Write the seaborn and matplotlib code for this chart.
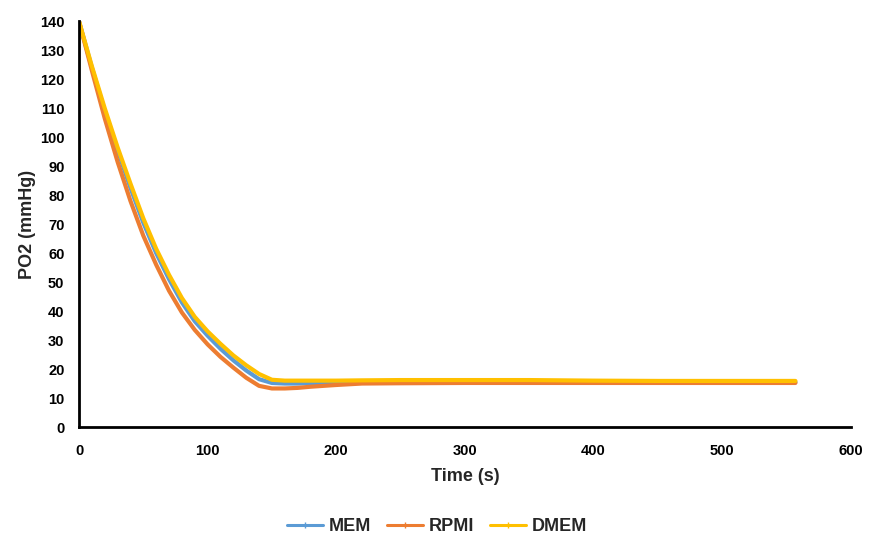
import numpy as np
import pandas as pd
import matplotlib
matplotlib.use("Agg")
import matplotlib.pyplot as plt
import seaborn as sns

# Oxygen partial pressure over time for three culture media
time_s = [0, 10, 20, 30, 40, 50, 60, 70, 80, 90, 100, 110, 120, 130, 140, 150,
          160, 170, 180, 200, 220, 250, 300, 350, 400, 450, 500, 557]
mem = [140, 124, 109, 95.5, 82.5, 70.5, 60, 51, 43, 36.5, 31.5, 27, 23, 19.5, 16.5, 15.2,
       15.0, 15.0, 15.1, 15.2, 15.4, 15.5, 15.5, 15.5, 15.5, 15.5, 15.5, 15.5]
rpmi = [140, 123, 106.5, 91.5, 78, 66, 56, 47, 39.5, 33.5, 28.5, 24.2, 20.5, 17, 14.2, 13.3,
        13.3, 13.5, 13.9, 14.5, 15.0, 15.1, 15.2, 15.2, 15.2, 15.2, 15.2, 15.2]
dmem = [140, 124.5, 110, 96.5, 84, 72, 61.5, 52.5, 44.5, 38, 33, 28.7, 24.7, 21.3, 18.3, 16.3,
        16.0, 16.0, 16.0, 16.0, 16.1, 16.2, 16.2, 16.2, 16.0, 15.9, 15.9, 15.9]

series_names = ["MEM", "RPMI", "DMEM"]
series_colors = ["#5B9BD5", "#ED7D31", "#FFC000"]

frames = []
for name, vals in zip(series_names, [mem, rpmi, dmem]):
    frames.append(pd.DataFrame({"Time (s)": time_s, "PO2 (mmHg)": vals, "Medium": name}))
df = pd.concat(frames, ignore_index=True)

sns.set_style("white")
plt.rcParams["font.family"] = ["Liberation Sans", "DejaVu Sans"]

fig = plt.figure(figsize=(8.73, 5.41), dpi=100)
ax = fig.add_axes([0.0905, 0.2107, 0.884, 0.750])

sns.lineplot(data=df, x="Time (s)", y="PO2 (mmHg)", hue="Medium",
             hue_order=series_names, palette=series_colors,
             linewidth=3, ax=ax, legend=True)

ax.set_xlim(0, 600)
ax.set_ylim(0, 140)
ax.set_xticks(np.arange(0, 601, 100))
ax.set_yticks(np.arange(0, 141, 10))

for side in ["top", "right"]:
    ax.spines[side].set_visible(False)
for side in ["left", "bottom"]:
    ax.spines[side].set_color("black")
    ax.spines[side].set_linewidth(2)

ax.tick_params(axis="both", direction="inout", length=9, width=1.6,
               colors="black", labelsize=10.5)
ax.tick_params(axis="x", pad=8)
ax.tick_params(axis="y", pad=6)
for lbl in ax.get_xticklabels() + ax.get_yticklabels():
    lbl.set_fontweight("bold")

ax.set_xlabel("Time (s)", fontsize=13, fontweight="bold", labelpad=7)
ax.set_ylabel("PO2 (mmHg)", fontsize=13, fontweight="bold", labelpad=3)

# small tick marker on legend handles
handles, labels = ax.get_legend_handles_labels()
for h, c in zip(handles, series_colors):
    h.set_marker("|")
    h.set_markersize(4)
    h.set_markeredgewidth(1)
    h.set_markeredgecolor(c)
    h.set_markerfacecolor(c)
    h.set_linewidth(2.2)

leg = ax.legend(handles, labels, loc="center", bbox_to_anchor=(0.464, -0.245), ncol=3,
                frameon=False, handlelength=2.0, columnspacing=0.9,
                handletextpad=0.3, prop={"weight": "bold", "size": 13})

fig.savefig("out.png", dpi=100)
